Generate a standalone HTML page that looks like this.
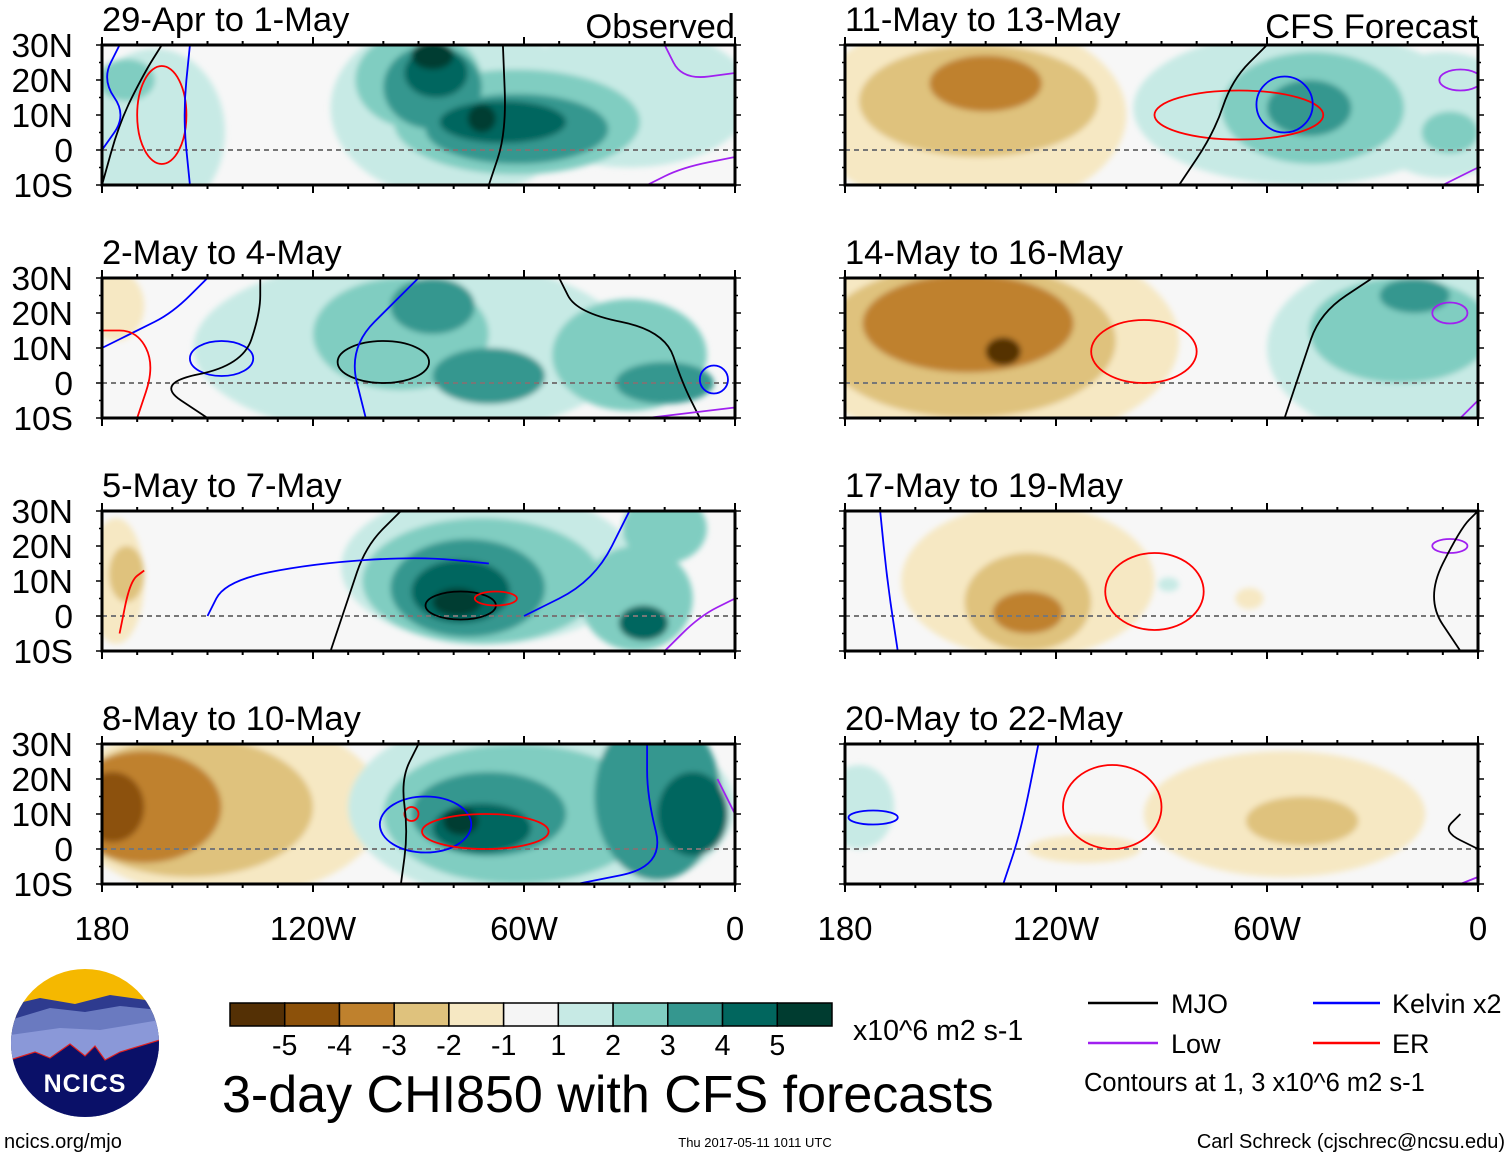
<!DOCTYPE html>
<html><head><meta charset="utf-8">
<style>
html,body{margin:0;padding:0;background:#fff;}
svg{display:block;font-family:"Liberation Sans",Arial,sans-serif;}
</style></head>
<body>
<svg id="chart" width="1510" height="1158" viewBox="0 0 1510 1158" xmlns="http://www.w3.org/2000/svg">
<defs>
<filter id="soft" x="-20%" y="-20%" width="140%" height="140%"><feGaussianBlur stdDeviation="3"/></filter>
</defs>
<g id="panels"></g>

<g id="colorbar"></g>
<text x="853" y="1040" font-size="28.5">x10^6 m2 s-1</text>
<text x="222" y="1112" font-size="52">3-day CHI850 with CFS forecasts</text>

<g>
<line x1="1088" y1="1003" x2="1158" y2="1003" stroke="#000" stroke-width="2.5"/>
<text x="1171" y="1013" font-size="27">MJO</text>
<line x1="1313" y1="1003" x2="1380" y2="1003" stroke="#0000ff" stroke-width="2.5"/>
<text x="1392" y="1013" font-size="27">Kelvin x2</text>
<line x1="1088" y1="1043" x2="1158" y2="1043" stroke="#a020f0" stroke-width="2.5"/>
<text x="1171" y="1053" font-size="27">Low</text>
<line x1="1313" y1="1043" x2="1380" y2="1043" stroke="#ff0000" stroke-width="2.5"/>
<text x="1392" y="1053" font-size="27">ER</text>
<text x="1084" y="1091" font-size="25.5">Contours at 1, 3 x10^6 m2 s-1</text>
</g>

<g>
<clipPath id="logoclip"><circle cx="85" cy="1043" r="74"/></clipPath>
<g clip-path="url(#logoclip)">
<rect x="10" y="968" width="150" height="150" fill="#f5b800"/>
<path d="M10 1005 L40 998 L75 1004 L110 995 L160 1002 L160 1118 L10 1118Z" fill="#2e3b8f"/>
<path d="M10 1020 L50 1008 L85 1012 L120 1006 L160 1010 L160 1118 L10 1118Z" fill="#6a7ac0"/>
<path d="M10 1035 L60 1028 L100 1030 L160 1020 L160 1118 L10 1118Z" fill="#8a98d8"/>
<path d="M10 1060 L35 1052 L50 1058 L70 1044 L85 1056 L95 1046 L105 1060 L120 1052 L160 1040 L160 1118 L10 1118Z" fill="#0a1068" stroke="#e02020" stroke-width="1.2"/>
</g>
<text x="85" y="1092" font-size="25" font-weight="bold" fill="#fff" text-anchor="middle" letter-spacing="1">NCICS</text>
</g>
<text x="4" y="1148" font-size="20">ncics.org/mjo</text>
<text x="755" y="1147" font-size="13" text-anchor="middle">Thu 2017-05-11 1011 UTC</text>
<text x="1505" y="1148" font-size="20" text-anchor="end">Carl Schreck (cjschrec@ncsu.edu)</text>
</svg>
<script>
const NS="http://www.w3.org/2000/svg";
const levelColors=["#543005","#8c510a","#bf812d","#dfc27d","#f6e8c3","#f5f5f5","#c7eae5","#80cdc1","#35978f","#01665e","#003c30"];
const colorbarLabels=["-5","-4","-3","-2","-1","1","2","3","4","5"];
const panelTitles=["29-Apr to 1-May","2-May to 4-May","5-May to 7-May","8-May to 10-May","11-May to 13-May","14-May to 16-May","17-May to 19-May","20-May to 22-May"];
const latTicks=[30,20,10,0,-10];
const latLabels=["30N","20N","10N","0","10S"];
const lonTicks=[-180,-120,-60,0];
const lonLabels=["180","120W","60W","0"];
// anomaly blobs per panel: [lon, lat, lonRadius, latRadius, levelIndex]
const blobs0=[[-165,5,20,24,6],[-80,12,35,26,6],[-30,15,35,20,6],[-90,20,18,14,7],[-62,8,35,15,7],[-86,18,14,12,8],[-62,6,26,10,8],[-85,22,9,7,9],[-66,8,18,6,9],[-86,27,6,4,10],[-72,9,4,4,10],[-173,20,8,6,7]];
const blobs1=[[-176,22,8,10,4],[-92,10,62,26,6],[-95,14,25,16,7],[-30,8,22,16,7],[-86,22,12,8,8],[-70,2,16,8,8],[-20,0,14,6,8]];
const blobs2=[[-176,10,8,18,4],[-173,12,5,8,3],[-70,14,42,22,6],[-72,10,34,18,7],[-76,8,22,14,8],[-78,7,14,9,9],[-79,4,7,4,10],[-28,5,16,15,7],[-26,-2,7,5,9],[-20,25,12,10,7]];
const blobs3=[[-145,12,45,26,4],[-155,12,35,20,3],[-168,12,22,16,2],[-177,12,9,10,1],[-55,12,55,28,6],[-62,10,38,20,7],[-70,10,22,12,8],[-72,6,14,7,9],[-78,8,5,4,10],[-22,15,18,24,8],[-12,10,10,12,9]];
const blobs4=[[-145,10,45,28,4],[-142,14,34,16,3],[-140,19,16,8,2],[-50,12,48,22,6],[-47,12,26,16,7],[-48,12,12,8,8],[-10,10,22,18,6],[-8,5,8,6,7]];
const blobs5=[[-140,12,55,30,4],[-145,12,42,22,3],[-145,17,30,14,2],[-135,9,5,4,0],[-20,10,40,26,6],[-22,15,26,15,7],[-18,25,10,5,8]];
const blobs6=[[-128,10,36,22,4],[-128,4,18,14,3],[-128,1,10,6,2],[-65,5,4,3,4],[-88,9,3,2,6]];
const blobs7=[[-176,12,10,12,6],[-55,10,40,18,4],[-50,8,16,7,3],[-112,0,16,4,4]];
const panelBlobs=[blobs0,blobs1,blobs2,blobs3,blobs4,blobs5,blobs6,blobs7];
// contour ellipses per panel: [lon, lat, lonRadius, latRadius, type]
const rings0=[[-163,10,7,14,"er"]];
const rings1=[[-146,7,9,5,"kelvin"],[-100,6,13,6,"mjo"],[-6,1,4,4,"kelvin"]];
const rings2=[[-78,3,10,4,"mjo"],[-68,5,6,2,"er"]];
const rings3=[[-88,7,13,8,"kelvin"],[-71,5,18,5,"er"],[-92,10,2,2,"er"]];
const rings4=[[-68,10,24,7,"er"],[-55,13,8,8,"kelvin"],[-5,20,6,3,"low"]];
const rings5=[[-95,9,15,9,"er"],[-8,20,5,3,"low"]];
const rings6=[[-92,7,14,11,"er"],[-8,20,5,2,"low"]];
const rings7=[[-104,12,14,12,"er"],[-172,9,7,2,"kelvin"]];
const panelRings=[rings0,rings1,rings2,rings3,rings4,rings5,rings6,rings7];
// contour lines per panel: lists of [lon,lat]
const lines0=[[[-180,-10],[-175,8],[-168,22],[-163,30],"mjo"],[[-155,-10],[-157,10],[-155,30],"kelvin"],[[-180,0],[-173,10],[-180,20],[-175,30],"kelvin"],[[-70,-10],[-65,5],[-66,30],"mjo"],[[-25,-10],[-15,-5],[0,-2],"low"],[[-20,30],[-15,20],[0,22],"low"]];
const lines1=[[[-180,10],[-170,15],[-160,20],[-150,30],"kelvin"],[[-170,-10],[-165,5],[-170,15],[-180,15],"er"],[[-150,-10],[-165,0],[-140,5],[-135,20],[-135,30],"mjo"],[[-105,-10],[-110,10],[-95,25],[-90,30],"kelvin"],[[-50,30],[-45,20],[-20,15],[-15,0],[-10,-10],"mjo"],[[-25,-10],[0,-7],"low"]];
const lines2=[[[-175,-5],[-172,10],[-168,13],"er"],[[-115,-10],[-110,5],[-105,20],[-95,30],"mjo"],[[-150,0],[-145,10],[-120,15],[-90,17],[-70,15],"kelvin"],[[-60,0],[-40,10],[-30,30],"kelvin"],[[-20,-10],[-10,0],[0,5],"low"]];
const lines3=[[[-95,-10],[-93,5],[-95,20],[-90,30],"mjo"],[[-45,-10],[-20,-5],[-25,15],[-25,30],"kelvin"],[[-5,20],[0,10],"low"]];
const lines4=[[[-85,-10],[-75,5],[-70,20],[-60,30],"mjo"],[[-10,-10],[0,-5],"low"]];
const lines5=[[[-55,-10],[-50,5],[-45,20],[-30,30],"mjo"],[[-5,-10],[0,-5],"low"]];
const lines6=[[[-165,-10],[-168,10],[-170,30],"kelvin"],[[-5,-10],[-15,5],[-5,25],[0,30],"mjo"]];
const lines7=[[[-135,-10],[-130,5],[-125,30],"kelvin"],[[-5,10],[-10,5],[0,0],"mjo"],[[-5,-10],[0,-8],"low"]];
const panelLines=[lines0,lines1,lines2,lines3,lines4,lines5,lines6,lines7];
const typeColor={mjo:"#000000",kelvin:"#0000ff",low:"#a020f0",er:"#ff0000"};

const PW=633,PH=140;
const origins=[[102,45],[102,278],[102,511],[102,744],[845,45],[845,278],[845,511],[845,744]];
function mk(tag,attrs,parent){const e=document.createElementNS(NS,tag);for(const k in attrs)e.setAttribute(k,attrs[k]);parent.appendChild(e);return e;}
const root=document.getElementById("panels");
panelTitles.forEach((title,i)=>{
  const [x0,y0]=origins[i];
  const xs=lon=>x0+(lon+180)/180*PW;
  const ys=lat=>y0+(30-lat)/40*PH;
  const g=mk("g",{},root);
  
  
  const cp=mk("clipPath",{id:"cp"+i},g);
  mk("rect",{x:x0,y:y0,width:PW,height:PH},cp);
  const inner=mk("g",{"clip-path":"url(#cp"+i+")"},g);
  mk("rect",{x:x0,y:y0,width:PW,height:PH,fill:"#f7f7f7"},inner);
  const bg=mk("g",{filter:"url(#soft)"},inner);
  const sorted=panelBlobs[i].slice().sort((a,b)=>Math.abs(a[4]-5)-Math.abs(b[4]-5));
  sorted.forEach(b=>{
    const el=mk("ellipse",{cx:xs(b[0]),cy:ys(b[1]),rx:b[2]/180*PW,ry:b[3]/40*PH,fill:levelColors[b[4]]},bg);
    
    
  });
  mk("line",{x1:x0,y1:ys(0),x2:x0+PW,y2:ys(0),stroke:"#777",'stroke-width':2,'stroke-dasharray':"5,4"},inner);
  panelRings[i].forEach(r=>{
    const el=mk("ellipse",{cx:xs(r[0]),cy:ys(r[1]),rx:r[2]/180*PW,ry:r[3]/40*PH,fill:"none",stroke:typeColor[r[4]],'stroke-width':1.8},inner);
    
    
  });
  panelLines[i].forEach(l=>{
    const pts=l.slice(0,-1);
    let d="M"+xs(pts[0][0])+" "+ys(pts[0][1]);
    for(let k=1;k<pts.length;k++){
      const p0=pts[k-1],p1=pts[k];
      const mx=(xs(p0[0])+xs(p1[0]))/2,my=(ys(p0[1])+ys(p1[1]))/2;
      d+=" Q"+xs(p0[0])+" "+ys(p0[1])+" "+mx+" "+my;
    }
    const last=pts[pts.length-1];d+=" L"+xs(last[0])+" "+ys(last[1]);
    const el=mk("path",{d:d,fill:"none",stroke:typeColor[l[l.length-1]],'stroke-width':1.8},inner);
    
    
  });
  mk("rect",{x:x0,y:y0,width:PW,height:PH,fill:"none",stroke:"#000",'stroke-width':3},g);
  for(let lon=-180;lon<=0;lon+=10){
    const big=lon%60===0?8:4;
    mk("line",{x1:xs(lon),y1:y0,x2:xs(lon),y2:y0-big,stroke:"#000",'stroke-width':2},g);
    mk("line",{x1:xs(lon),y1:y0+PH,x2:xs(lon),y2:y0+PH+big,stroke:"#000",'stroke-width':2},g);
  }
  for(let lat=-10;lat<=30;lat+=5){
    const big=lat%10===0?6:3;
    mk("line",{x1:x0,y1:ys(lat),x2:x0-big,y2:ys(lat),stroke:"#000",'stroke-width':1.5},g);
    mk("line",{x1:x0+PW,y1:ys(lat),x2:x0+PW+big,y2:ys(lat),stroke:"#000",'stroke-width':1.5},g);
  }
  const t=mk("text",{x:x0,y:y0-14,'font-size':34.5},g);
  t.textContent=title;
  
  
  if(i===0||i===4){
    const s=mk("text",{x:x0+PW,y:y0-7,'font-size':34.5,'text-anchor':'end'},g);
    s.textContent=i===0?"Observed":"CFS Forecast";
    
    
  }
  if(i<4){
    latTicks.forEach((lat,k)=>{
      const lt=mk("text",{x:73,y:ys(lat)+12,'font-size':33.5,'text-anchor':'end'},g);
      lt.textContent=latLabels[k];
      
      
    });
  }
  if(i===3||i===7){
    lonTicks.forEach((lon,k)=>{
      const xt=mk("text",{x:xs(lon),y:y0+PH+56,'font-size':33,'text-anchor':'middle'},g);
      xt.textContent=lonLabels[k];
      
      
    });
  }
});
const cb=document.getElementById("colorbar");
const cbx=230,cby=1003,cbw=602/11,cbh=23;
levelColors.forEach((c,k)=>{
  const r=mk("rect",{x:cbx+k*cbw,y:cby,width:cbw,height:cbh,fill:c,stroke:"#000",'stroke-width':1.5},cb);
  
  
});
colorbarLabels.forEach((lab,k)=>{
  const t=mk("text",{x:cbx+(k+1)*cbw,y:1055,'font-size':28.5,'text-anchor':'middle'},cb);
  t.textContent=lab;
  
  
});
</script>
</body></html>
